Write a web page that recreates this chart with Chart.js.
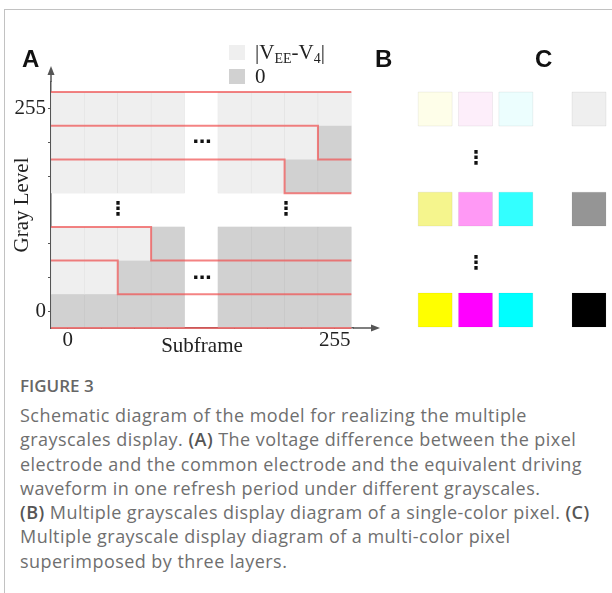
<!DOCTYPE html>
<html>
<head>
<meta charset="utf-8">
<script src="https://cdn.jsdelivr.net/npm/chart.js@4.4.1/dist/chart.umd.min.js"></script>
<style>
  html, body { margin: 0; padding: 0; background: #fff; }
  body { width: 612px; height: 593px; position: relative; overflow: hidden; }
  .frame-left { position: absolute; left: 4px; top: 9px; bottom: 0; border-left: 1px solid #c2c2c2; }
  .frame-top { position: absolute; left: 4px; right: 0; top: 9px; border-top: 1px solid #c2c2c2; }
  canvas { position: absolute; }
  #chartA { left: 0; top: 0; }
  #chartB { left: 415px; top: 60px; }
  #chartC { left: 569px; top: 60px; }
  .panel { position: absolute; font: bold 24px "Liberation Sans", Arial, sans-serif; color: #111; line-height: 1; }
  .dots { position: absolute; font: bold 19px "DejaVu Sans", sans-serif; color: #111; line-height: 1; transform: translate(-50%, -50%); }
  #legend { position: absolute; left: 229px; top: 40px; font: 21px "Liberation Serif", serif; color: #222; }
  #legend .item { height: 24px; display: flex; align-items: center; }
  #legend .sw { width: 16px; height: 15px; margin-right: 10px; }
  #legend sub { font-size: 14px; vertical-align: -4px; line-height: 0; }
  #caption { position: absolute; left: 20px; top: 373px; width: 590px; font-family: "Open Sans", sans-serif; color: #6f6f6f; }
  #caption .fig { font-size: 17px; font-weight: 600; line-height: 26px; color: #666; }
  #caption .body { font-size: 18px; letter-spacing: 0.45px; line-height: 24.3px; margin-top: 4px; }
  #caption b { font-weight: 600; color: #555; }
</style>
</head>
<body>
<div class="frame-left"></div>
<div class="frame-top"></div>

<canvas id="chartA" width="400" height="360"></canvas>
<canvas id="chartB" width="121" height="300"></canvas>
<canvas id="chartC" width="40" height="300"></canvas>

<div class="panel" style="left:22px; top:47px;">A</div>
<div class="panel" style="left:375px; top:47px;">B</div>
<div class="panel" style="left:535px; top:47px;">C</div>

<div id="legend"></div>

<div class="dots" style="left:202px; top:141px;">⋯</div>
<div class="dots" style="left:202px; top:277px;">⋯</div>
<div class="dots" style="left:118px; top:208px;">⋮</div>
<div class="dots" style="left:286px; top:208px;">⋮</div>
<div class="dots" style="left:476px; top:157px;">⋮</div>
<div class="dots" style="left:476px; top:262px;">⋮</div>

<div id="caption">
  <div class="fig">FIGURE 3</div>
  <div class="body">Schematic diagram of the model for realizing the multiple<br>grayscales display. <b>(A)</b> The voltage difference between the pixel<br>electrode and the common electrode and the equivalent driving<br>waveform in one refresh period under different grayscales.<br><b>(B)</b> Multiple grayscales display diagram of a single-color pixel. <b>(C)</b><br>Multiple grayscale display diagram of a multi-color pixel<br>superimposed by three layers.</div>
</div>

<script>
// panel A: subframes (x) and gray levels (y)
const subframeSlots = [0, 1, 2, 3, 5, 6, 7, 8]; // slot 4 is the "..." column
const subframeLabels = ["0", "", "", "", "", "", "", "255"];
const grayRows = [0, 1, 2, 4, 5, 6]; // row 3 is the vertical dots
const grayLabels = ["0", "", "", "", "", "255"];
const onSubframes = [0, 2, 3, 6, 7, 8]; // subframes at |VEE-V4| for each row

// panel B / C
const grayLevels = [255, 128, 0];
const layers = ["Yellow", "Magenta", "Cyan"];
const yellowShades = ["#fefee9", "#f5f58d", "#ffff00"];
const magentaShades = ["#fdeefa", "#ff99f5", "#ff00ff"];
const cyanShades = ["#ecfefe", "#33ffff", "#00ffff"];
const grayShades = ["#efefef", "#959595", "#000000"];

const legendLabels = ["|V<sub>EE</sub>-V<sub>4</sub>|", "0"];

Chart.defaults.color = "#222";
Chart.defaults.font.family = '"Liberation Serif", serif';
Chart.defaults.font.size = 21;

// cells
const lightCells = [];
const darkCells = [];
grayRows.forEach((row, i) => {
  subframeSlots.forEach((slot, j) => {
    const cell = { x: slot + 0.5, y: [row, row + 1] };
    if (j < onSubframes[i]) lightCells.push(cell);
    else darkCells.push(cell);
  });
});

// red driving waveform of each row
const lastEdge = subframeSlots[subframeSlots.length - 1] + 1;
const waveforms = grayRows.map((row, i) => {
  const n = onSubframes[i];
  if (n === 0) return [{ x: 0, y: row }, { x: lastEdge, y: row }];
  if (n === subframeSlots.length) return [{ x: 0, y: row + 1 }, { x: lastEdge, y: row + 1 }];
  const edge = subframeSlots[n];
  return [
    { x: 0, y: row + 1 },
    { x: edge, y: row + 1 },
    { x: edge, y: row },
    { x: lastEdge, y: row },
  ];
});

const axisColor = "#555";

// arrow heads on both axes
const axisArrows = {
  id: "axisArrows",
  afterDraw(chart) {
    const { ctx, chartArea } = chart;
    const x0 = chart.scales.y.right;
    const y0 = chart.scales.x.top;
    ctx.save();
    ctx.strokeStyle = axisColor;
    ctx.fillStyle = axisColor;
    ctx.lineWidth = 1.5;
    ctx.beginPath();
    ctx.moveTo(x0, chartArea.top);
    ctx.lineTo(x0, 72);
    ctx.moveTo(chartArea.right, y0);
    ctx.lineTo(374, y0);
    ctx.stroke();
    ctx.beginPath();
    ctx.moveTo(x0, 66);
    ctx.lineTo(x0 - 3.5, 75);
    ctx.lineTo(x0 + 3.5, 75);
    ctx.closePath();
    ctx.fill();
    ctx.beginPath();
    ctx.moveTo(380, y0);
    ctx.lineTo(371, y0 - 3.5);
    ctx.lineTo(371, y0 + 3.5);
    ctx.closePath();
    ctx.fill();
    ctx.restore();
  },
};

const cellStyle = {
  type: "bar",
  grouped: false,
  barPercentage: 1,
  categoryPercentage: 1,
  borderWidth: 0.6,
  borderSkipped: false,
  order: 2,
};

const chartA = new Chart(document.getElementById("chartA"), {
  type: "bar",
  data: {
    datasets: [
      { ...cellStyle, label: "light", data: lightCells, backgroundColor: "#efefef", borderColor: "#e0e0e0" },
      { ...cellStyle, label: "dark", data: darkCells, backgroundColor: "#d1d1d1", borderColor: "#c4c4c4" },
      ...waveforms.map((points) => ({
        type: "line",
        data: points,
        borderColor: "rgba(240, 90, 90, 0.75)",
        borderWidth: 2,
        pointRadius: 0,
        tension: 0,
        fill: false,
        clip: false,
        order: 1,
      })),
    ],
  },
  options: {
    responsive: false,
    animation: false,
    events: [],
    layout: { autoPadding: false, padding: { left: 0, top: 82, right: 47, bottom: 0 } },
    plugins: { legend: { display: false }, tooltip: { enabled: false } },
    scales: {
      x: {
        type: "linear",
        min: 0,
        max: 9.05,
        offset: false,
        afterFit: (scale) => { scale.height = 32; },
        afterBuildTicks: (scale) => {
          scale.ticks = subframeSlots.map((s) => ({ value: s + 0.5 }));
        },
        ticks: {
          autoSkip: false,
          maxRotation: 0,
          padding: 3,
          callback: (value, index) => subframeLabels[index],
        },
        grid: { offset: false, drawOnChartArea: false, tickLength: -3, color: axisColor },
        border: { display: true, color: axisColor, width: 1.5 },
        title: { display: true, text: "Subframe", padding: { top: 0, bottom: 1 } },
      },
      y: {
        type: "linear",
        min: 0,
        max: 7.3,
        afterFit: (scale) => { scale.width = 51; },
        afterBuildTicks: (scale) => {
          scale.ticks = grayRows.map((r) => ({ value: r + 0.5 }));
        },
        ticks: {
          autoSkip: false,
          padding: 2,
          callback: (value, index) => grayLabels[index],
        },
        grid: { drawOnChartArea: false, tickLength: 3, color: axisColor },
        border: { display: true, color: axisColor, width: 1.5 },
        title: { display: true, text: "Gray Level", padding: { top: 10, bottom: 0 } },
      },
    },
  },
  plugins: [axisArrows],
});

// html legend from the two cell datasets
document.getElementById("legend").innerHTML = chartA.data.datasets
  .slice(0, 2)
  .map((ds, i) =>
    `<div class="item"><span class="sw" style="background:${ds.backgroundColor}"></span><span>${legendLabels[i]}</span></div>`
  )
  .join("");

function squareChart(canvasId, labels, datasets) {
  return new Chart(document.getElementById(canvasId), {
    type: "scatter",
    data: {
      datasets: datasets.map((ds) => ({
        label: ds.label,
        data: grayLevels.map((level) => ({ x: ds.label, y: level })),
        pointStyle: "rect",
        pointRadius: 24,
        pointBackgroundColor: ds.colors,
        pointBorderColor: "rgba(0, 0, 0, 0.06)",
        pointBorderWidth: 1,
        clip: false,
      })),
    },
    options: {
      responsive: false,
      animation: false,
      events: [],
      layout: { autoPadding: false, padding: 0 },
      plugins: { legend: { display: false }, tooltip: { enabled: false } },
      scales: {
        x: { type: "category", labels: labels, offset: true, display: false },
        y: { type: "linear", min: -63.4, max: 317.2, display: false },
      },
    },
  });
}

squareChart("chartB", layers, [
  { label: "Yellow", colors: yellowShades },
  { label: "Magenta", colors: magentaShades },
  { label: "Cyan", colors: cyanShades },
]);
squareChart("chartC", ["Gray"], [{ label: "Gray", colors: grayShades }]);
</script>
</body>
</html>
